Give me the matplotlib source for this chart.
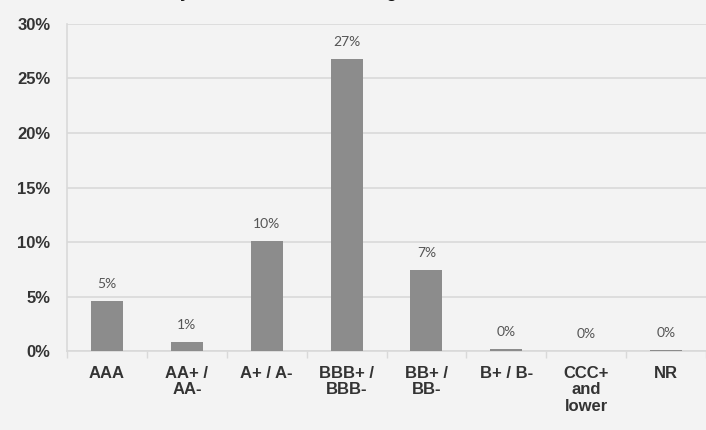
import matplotlib.pyplot as plt
import numpy as np

# Share of portfolio by credit rating bucket
ratings = ["AAA", "AA+ /\nAA-", "A+ / A-", "BBB+ /\nBBB-", "BB+ /\nBB-",
           "B+ / B-", "CCC+\nand\nlower", "NR"]
weights = [0.046, 0.008, 0.101, 0.268, 0.074, 0.002, 0.0, 0.001]
y_ticks = [0.0, 0.05, 0.10, 0.15, 0.20, 0.25, 0.30]

bg = "#f3f3f3"
grid_col = "#d9d9d9"

fig = plt.figure(figsize=(7.06, 4.30), dpi=100, facecolor=bg)
ax = fig.add_axes([0.095, 0.1837, 0.905, 0.7605], facecolor=bg)

x = np.arange(len(ratings))
bars = ax.bar(x, weights, width=0.4, color="#8c8c8c", zorder=3)

# value labels above each bar
for b, v in zip(bars, weights):
    ax.annotate(f"{v:.0%}", (b.get_x() + b.get_width() / 2, v),
                xytext=(0, 8), textcoords="offset points",
                ha="center", va="bottom", fontsize=10,
                family=["Lato", "DejaVu Sans"],
                color="#555555")

ax.set_xlim(-0.5, len(ratings) - 0.5)
ax.set_ylim(0, 0.30)
ax.set_yticks(y_ticks)
ax.set_yticklabels([f"{t:.0%}" for t in y_ticks],
                   family="Liberation Sans", fontweight="bold",
                   fontsize=12, color="#333333")
ax.tick_params(axis="y", length=0, pad=12)

ax.set_xticks(x)
ax.set_xticklabels(ratings, family="Liberation Sans", fontweight="bold",
                   fontsize=12, color="#333333", va="top", linespacing=1.1)
ax.tick_params(axis="x", length=0, pad=11)
# category separators under the axis
ax.set_xticks(np.arange(len(ratings) + 1) - 0.5, minor=True)
ax.tick_params(axis="x", which="minor", length=5, color=grid_col, width=1)

ax.yaxis.grid(True, color=grid_col, linewidth=1.2, zorder=0)
ax.set_axisbelow(True)
for side in ["top", "right"]:
    ax.spines[side].set_visible(False)
for side in ["left", "bottom"]:
    ax.spines[side].set_color(grid_col)
    ax.spines[side].set_linewidth(1.2)

# chart title sits mostly above the top edge
fig.text(397 / 706, 1 + 3 / 430, "Portfolio Breakdown by Individual Credit Rating",
         ha="right", va="baseline", family="Liberation Sans",
         fontweight="bold", fontsize=13, color="#111111")

fig.savefig("out.png", dpi=100, facecolor=bg)
